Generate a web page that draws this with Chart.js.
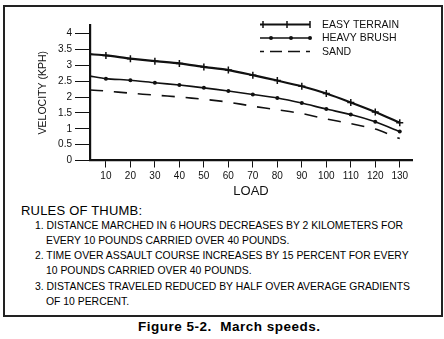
<!DOCTYPE html>
<html>
<head>
<meta charset="utf-8">
<script src="https://cdn.jsdelivr.net/npm/chart.js@4/dist/chart.umd.min.js"></script>
<style>
    body { margin: 0; background: #fff; font-family: "Liberation Sans", Arial, sans-serif; color: #000; }
    #page { position: relative; width: 444px; height: 339px; overflow: hidden; }
    #frame { position: absolute; left: 3px; top: 5px; width: 436px; height: 308px; border: 2px solid #222; }
    #chart { position: absolute; left: 0; top: 0; }
    #rulesTitle { position: absolute; left: 21px; top: 203px; font-size: 13px; line-height: 15px; letter-spacing: 0.2px; }
    .rule { position: absolute; left: 35px; width: 404px; font-size: 10.4px; line-height: 14.5px; white-space: nowrap; }
    .rule span { display: block; padding-left: 11px; }
    #caption { position: absolute; left: 138px; top: 319px; white-space: nowrap;
               font-size: 13.5px; font-weight: bold; line-height: 16px; letter-spacing: 0.5px; }
</style>
</head>
<body>
<div id="page">
    <div id="frame"></div>
    <canvas id="chart" width="444" height="200"></canvas>
    <div id="rulesTitle">RULES OF THUMB:</div>
    <div class="rule" style="top:219px">1. DISTANCE MARCHED IN 6 HOURS DECREASES BY 2 KILOMETERS FOR<span>EVERY 10 POUNDS CARRIED OVER 40 POUNDS.</span></div>
    <div class="rule" style="top:249px">2. TIME OVER ASSAULT COURSE INCREASES BY 15 PERCENT FOR EVERY<span>10 POUNDS CARRIED OVER 40 POUNDS.</span></div>
    <div class="rule" style="top:280px">3. DISTANCES TRAVELED REDUCED BY HALF OVER AVERAGE GRADIENTS<span>OF 10 PERCENT.</span></div>
    <div id="caption">Figure 5-2.&nbsp; March speeds.</div>
</div>
<script>
// load (lb) and march velocity (kph) for each terrain
const loads = [3.5, 10, 20, 30, 40, 50, 60, 70, 80, 90, 100, 110, 120, 130];
const easyTerrain = [3.35, 3.31, 3.21, 3.13, 3.06, 2.95, 2.85, 2.69, 2.52, 2.34, 2.11, 1.83, 1.53, 1.19];
const heavyBrush = [2.66, 2.58, 2.53, 2.45, 2.38, 2.29, 2.19, 2.08, 1.97, 1.81, 1.62, 1.45, 1.22, 0.91];
const sand = [2.22, 2.19, 2.12, 2.06, 2.00, 1.93, 1.84, 1.71, 1.60, 1.48, 1.31, 1.16, 0.99, 0.69];

const loadTicks = [10, 20, 30, 40, 50, 60, 70, 80, 90, 100, 110, 120, 130];
const velocityTicks = [0, 0.5, 1, 1.5, 2, 2.5, 3, 3.5, 4];
const seriesNames = ["EASY TERRAIN", "HEAVY BRUSH", "SAND"];

const ink = "#111";
const font = "'Liberation Sans', Arial, sans-serif";

function points(values) {
    return loads.map((x, i) => ({ x: x, y: values[i] }));
}

// no marker where the curve leaves the axis
function markerSize(r) {
    return ctx => ctx.dataIndex === 0 ? 0 : r;
}

// legend in the top right: a short sample line with markers, then the name
const sampleLegend = {
    id: "sampleLegend",
    afterDraw(chart) {
        const ctx = chart.ctx;
        const rows = [24.5, 38, 51.5];
        const x0 = 260, x1 = 310;
        ctx.save();
        ctx.strokeStyle = ink;
        ctx.fillStyle = ink;
        chart.data.datasets.forEach((ds, i) => {
            const y = rows[i];
            ctx.lineWidth = ds.borderWidth;
            ctx.setLineDash(i === 2 ? [12, 6] : []);
            ctx.lineDashOffset = i === 2 ? 8 : 0;
            ctx.beginPath();
            ctx.moveTo(x0, y);
            ctx.lineTo(x1, y);
            ctx.stroke();
            ctx.setLineDash([]);
            if (i === 0) {
                ctx.lineWidth = 1.5;
                [263, 287, 310].forEach(px => {
                    ctx.beginPath();
                    ctx.moveTo(px, y - 3.5);
                    ctx.lineTo(px, y + 3.5);
                    ctx.stroke();
                });
            } else if (i === 1) {
                [271, 291, 310].forEach(px => {
                    ctx.beginPath();
                    ctx.arc(px, y, 2, 0, Math.PI * 2);
                    ctx.fill();
                });
            }
            ctx.font = "10.5px " + font;
            ctx.textBaseline = "middle";
            ctx.textAlign = "left";
            ctx.fillText(seriesNames[i], 322, y + 0.5);
        });
        ctx.restore();
    }
};

new Chart(document.getElementById("chart"), {
    type: "line",
    data: {
        datasets: [{
            label: seriesNames[0],
            data: points(easyTerrain),
            borderColor: ink,
            backgroundColor: ink,
            borderWidth: 2.2,
            pointStyle: "cross",
            pointRadius: markerSize(3.5),
            pointBorderWidth: 1.5,
            tension: 0.2
        }, {
            label: seriesNames[1],
            data: points(heavyBrush),
            borderColor: ink,
            backgroundColor: ink,
            borderWidth: 1.6,
            pointStyle: "circle",
            pointRadius: markerSize(2),
            pointBorderWidth: 0,
            tension: 0.2
        }, {
            label: seriesNames[2],
            data: points(sand),
            borderColor: ink,
            borderWidth: 1.6,
            borderDash: [13, 11],
            pointRadius: 0,
            tension: 0.2
        }]
    },
    options: {
        responsive: false,
        animation: false,
        layout: { padding: { top: 25, right: 32, left: 0, bottom: 0 } },
        plugins: {
            legend: { display: false },
            tooltip: { enabled: false }
        },
        scales: {
            x: {
                type: "linear",
                min: 3.5,
                max: 135,
                afterBuildTicks: scale => { scale.ticks = loadTicks.map(v => ({ value: v })); },
                afterFit: scale => { scale.height = 39.5; },
                grid: { drawOnChartArea: false, drawTicks: true, tickLength: 7, color: ink, lineWidth: 1 },
                border: { display: true, color: ink, width: 2.2 },
                ticks: { color: ink, font: { family: font, size: 10 }, padding: 3, maxRotation: 0, callback: v => String(v) },
                title: { display: true, text: "LOAD", color: ink, font: { family: font, size: 13 }, padding: { top: 0, bottom: 1 } }
            },
            y: {
                min: 0,
                max: 4.27,
                afterBuildTicks: scale => { scale.ticks = velocityTicks.map(v => ({ value: v })); },
                afterFit: scale => { scale.width = 90; },
                grid: { drawOnChartArea: false, drawTicks: true, tickLength: 15, color: ink, lineWidth: 1 },
                border: { display: true, color: ink, width: 2.2 },
                ticks: { color: ink, font: { family: font, size: 10 }, padding: 3, callback: v => String(v) },
                title: { display: true, text: "VELOCITY (KPH)", color: ink, font: { family: font, size: 10.5 }, padding: { top: 37, bottom: 0 } }
            }
        }
    },
    plugins: [sampleLegend]
});
</script>
</body>
</html>
